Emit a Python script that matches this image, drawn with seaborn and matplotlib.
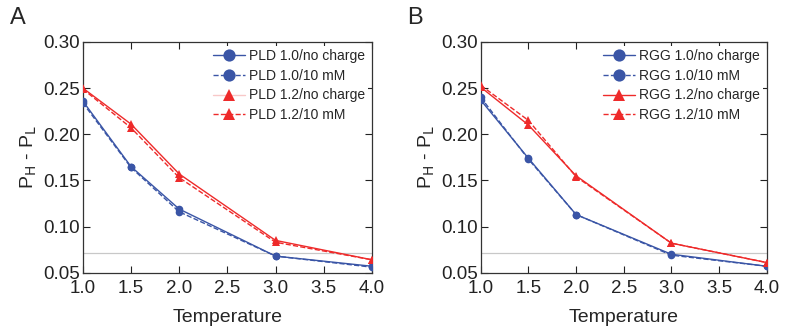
import matplotlib
matplotlib.use("Agg")
import matplotlib.pyplot as plt
import seaborn as sns
import pandas as pd

temps = [1.0, 1.5, 2.0, 3.0, 4.0]

pld_10_nc = [0.236, 0.165, 0.119, 0.068, 0.057]
pld_10_mm = [0.234, 0.164, 0.116, 0.068, 0.056]
pld_12_nc = [0.250, 0.211, 0.157, 0.085, 0.064]
pld_12_mm = [0.249, 0.207, 0.153, 0.083, 0.064]

rgg_10_nc = [0.237, 0.174, 0.113, 0.070, 0.057]
rgg_10_mm = [0.240, 0.173, 0.113, 0.069, 0.057]
rgg_12_nc = [0.251, 0.210, 0.155, 0.082, 0.061]
rgg_12_mm = [0.253, 0.215, 0.154, 0.082, 0.061]

pld_labels = ["PLD 1.0/no charge", "PLD 1.0/10 mM", "PLD 1.2/no charge", "PLD 1.2/10 mM"]
rgg_labels = ["RGG 1.0/no charge", "RGG 1.0/10 mM", "RGG 1.2/no charge", "RGG 1.2/10 mM"]
ref_level = 0.071

sns.set_theme(style="ticks")
plt.rcParams['font.family'] = ['Liberation Sans', 'DejaVu Sans']

BLUE = "#3a55a6"
RED = "#ee2a2a"

fig = plt.figure(figsize=(7.88, 3.27), dpi=100)
axA = fig.add_axes([0.105, 0.166, 0.367, 0.706])
axB = fig.add_axes([0.610, 0.166, 0.363, 0.706])

styles = [(BLUE, '-', 'o'), (BLUE, '--', 'o'), (RED, '-', '^'), (RED, '--', '^')]

def draw(ax, series, labels, panel, faint_third=False):
    ax.axhline(ref_level, color="#c8c8c8", lw=0.9, zorder=1)
    for vals, lab, (c, ls, m) in zip(series, labels, styles):
        df = pd.DataFrame({"Temperature": temps, "val": vals})
        sns.lineplot(data=df, x="Temperature", y="val", ax=ax, color=c,
                     linestyle=ls, marker=m, markersize=5.5, markeredgewidth=0,
                     lw=1.0, label=lab, zorder=3)
    ax.set_xlim(1.0, 4.0)
    ax.set_ylim(0.05, 0.30)
    ax.set_xticks([1.0, 1.5, 2.0, 2.5, 3.0, 3.5, 4.0])
    ax.set_yticks([0.05, 0.10, 0.15, 0.20, 0.25, 0.30])
    ax.set_xticklabels([f"{v:.1f}" for v in ax.get_xticks()])
    ax.set_yticklabels([f"{v:.2f}" for v in ax.get_yticks()])
    ax.tick_params(direction='in', top=True, right=True, length=5, width=0.8,
                   labelsize=13.5, colors='#222222', pad=2)
    ax.tick_params(axis='x', pad=5)
    for s in ax.spines.values():
        s.set_visible(True)
        s.set_color('#333333')
        s.set_linewidth(0.9)
    ax.set_xlabel("Temperature", fontsize=14, labelpad=9)
    ax.set_ylabel(r"P$_{\rm H}$ - P$_{\rm L}$", fontsize=14, labelpad=3)
    leg = ax.legend(loc='upper right', fontsize=10, frameon=True, framealpha=1,
                    facecolor='white', edgecolor='none', markerscale=1.6,
                    handlelength=2.3, handletextpad=0.3, labelspacing=0.42,
                    borderpad=0.2, borderaxespad=0.3)
    if faint_third:
        leg.get_lines()[2].set_color('#f8c8c8')
        leg.get_lines()[2].set_markerfacecolor(RED)
        leg.get_lines()[2].set_markeredgecolor(RED)
    fig.text(ax.get_position().x0 - 0.093, 0.91, panel, fontsize=17, ha='left', va='bottom')

draw(axA, [pld_10_nc, pld_10_mm, pld_12_nc, pld_12_mm], pld_labels, "A", faint_third=True)
draw(axB, [rgg_10_nc, rgg_10_mm, rgg_12_nc, rgg_12_mm], rgg_labels, "B")

fig.savefig("out.png", dpi=100)
